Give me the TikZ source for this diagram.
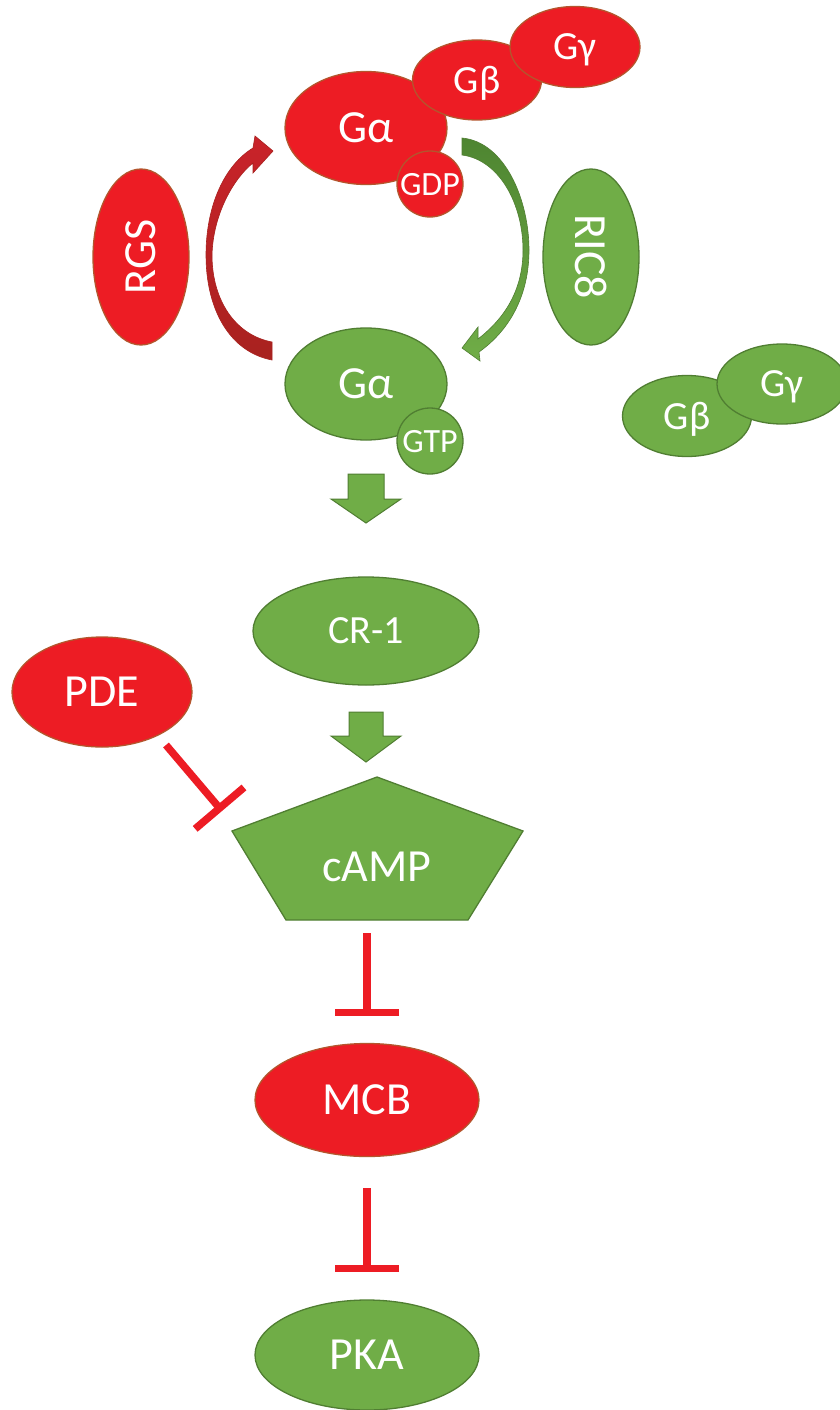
\documentclass[tikz,border=0pt]{standalone}
\usepackage{fontspec}
\setmainfont{Carlito}
\usetikzlibrary{arrows.meta,shapes.geometric}
\definecolor{gfill}{HTML}{70AD47}
\definecolor{gline}{HTML}{507E32}
\definecolor{gdark}{HTML}{4E8531}
\definecolor{rfill}{HTML}{ED1C24}
\definecolor{rline}{HTML}{B4552D}
\definecolor{rdark}{HTML}{A8221F}
\definecolor{rmid}{HTML}{C9232A}
\begin{document}
\begin{tikzpicture}[x=1pt,y=-1pt,
  base/.style={ellipse, inner sep=0pt, text=white, line width=1.3pt,
    font=\fontsize{46}{46}\selectfont, text depth=0pt},
  redn/.style={base, fill=rfill, draw=rline},
  greenn/.style={base, fill=gfill, draw=gline},
  smallf/.style={font=\fontsize{40}{40}\selectfont},
  tinyf/.style={font=\fontsize{34}{34}\selectfont},
  blockarr/.style={fill=gfill, draw=gline, line width=1pt},
  inhib/.style={draw=rfill, line width=7.5pt, -{Bar[width=64pt]}},
  textonly/.style={inner sep=0pt, text=white, font=\fontsize{46}{46}\selectfont, text depth=0pt}
]
\useasboundingbox (0,0) rectangle (840,1410);
\fill[white] (0,0) rectangle (840,1410);

% inactive heterotrimer (red)
\node[redn, minimum width=162pt, minimum height=113pt] (ga1) at (366,128) {Gα};
\node[redn, smallf, minimum width=129pt, minimum height=80pt] (gb1) at (477,80) {Gβ};
\node[redn, smallf, minimum width=130pt, minimum height=81pt] (gg1) at (575,47) {Gγ};
\node[redn, tinyf, circle, minimum size=66pt] (gdp) at (430,184) {GDP};

% regulators
\node[redn, rotate=90, minimum width=176pt, minimum height=96pt] (rgs) at (141,257) {RGS};
\node[greenn, rotate=-90, minimum width=176pt, minimum height=96pt] (ric) at (591,257) {RIC8};

% curved arrows
\path[top color=rmid, bottom color=rdark, draw=rdark, line width=0.6pt]
  (272,360) .. controls (230,352) and (206,310) .. (206,255)
  .. controls (206,205) and (225,165) .. (253,148)
  -- (255,136) -- (273,151) -- (253,173) -- (253,163)
  .. controls (234,178) and (213,214) .. (212,255)
  .. controls (212,300) and (235,335) .. (272,342) -- cycle;
\path[top color=gdark, bottom color=gfill, draw=gline, line width=0.6pt]
  (462,138) .. controls (505,142) and (529,200) .. (529,250)
  .. controls (529,295) and (510,330) .. (479,352)
  -- (480,361) -- (462,348) -- (478,327) -- (478,339)
  .. controls (505,318) and (523,290) .. (523,250)
  .. controls (523,205) and (500,160) .. (462,155) -- cycle;

% active G alpha
\node[greenn, minimum width=162pt, minimum height=112pt] (ga2) at (366,384) {Gα};
\node[greenn, tinyf, circle, minimum size=66pt] (gtp) at (430,441) {GTP};

% free G beta gamma
\node[greenn, smallf, minimum width=129pt, minimum height=81pt] (gb2) at (687,416) {Gβ};
\node[greenn, smallf, minimum width=130pt, minimum height=80pt] (gg2) at (782,384) {Gγ};

% block arrows
\draw[blockarr, shift={(366,474)}] (-18,0) -- (18,0) -- (18,25) -- (35,25) -- (0,49) -- (-35,25) -- (-18,25) -- cycle;
\node[greenn, smallf, minimum width=226pt, minimum height=108pt] (cr1) at (366,631) {CR-1};
\draw[blockarr, shift={(366,712)}] (-17,0) -- (17,0) -- (17,24) -- (35,24) -- (0,50) -- (-35,24) -- (-17,24) -- cycle;

% cAMP pentagon
\draw[fill=gfill, draw=gline, line width=1.3pt]
  (377,777) -- (523,831) -- (468,920) -- (286,920) -- (232,831) -- cycle;
\node[textonly] (camp) at (377,867) {cAMP};

% PDE
\node[redn, minimum width=180pt, minimum height=110pt] (pde) at (102,692) {PDE};
\coordinate (p1) at (166,745);
\coordinate (p2) at (222,811);
\draw[inhib] (p1) -- (p2);

% MCB and PKA
\coordinate (c1) at (367,933);
\coordinate (c2) at (367,1016);
\draw[inhib] (c1) -- (c2);
\node[redn, minimum width=224pt, minimum height=113pt] (mcb) at (367,1100) {MCB};
\coordinate (m1) at (367,1188);
\coordinate (m2) at (367,1272);
\draw[inhib] (m1) -- (m2);
\node[greenn, minimum width=224pt, minimum height=110pt] (pka) at (367,1355) {PKA};
\end{tikzpicture}
\end{document}
